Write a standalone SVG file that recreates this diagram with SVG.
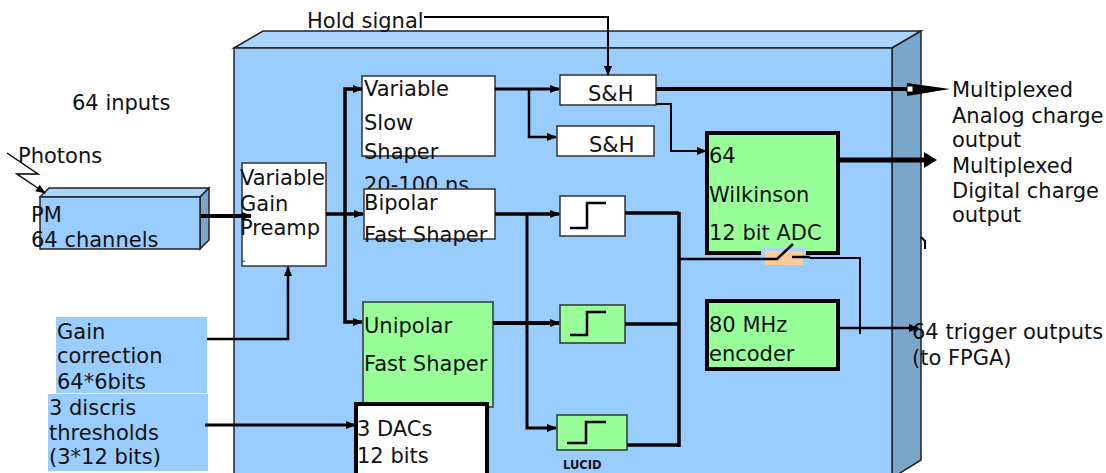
<svg xmlns="http://www.w3.org/2000/svg" width="1106" height="473" viewBox="0 0 1106 473">
<style>
text{font-family:"DejaVu Sans","Liberation Sans",sans-serif;font-size:21px;fill:#111}
.lucid{font-size:11.5px;font-weight:bold}
.wbox{fill:#fff;stroke:#333;stroke-width:1.5}
.gbox{fill:#99ff99;stroke:#333;stroke-width:1.5}
.gthick{fill:#99ff99;stroke:#000;stroke-width:4}
.wthick{fill:#fff;stroke:#000;stroke-width:4}
.front{fill:#99ccff;stroke:#222;stroke-width:1.5}
.top{fill:#aad4fc;stroke:#222;stroke-width:1.5}
.side{fill:#7aa6cc;stroke:#222;stroke-width:1.5}
.lab{fill:#99ccff}
.c{fill:none;stroke:#000;stroke-linejoin:miter}
.step{fill:none;stroke:#000;stroke-width:2.5}
</style>
<defs>
<marker id="arr" viewBox="0 0 10 10" refX="9" refY="5" markerWidth="11" markerHeight="10" markerUnits="userSpaceOnUse" orient="auto">
<path d="M0,1 L10,5 L0,9 z" fill="#000"/>
</marker>
</defs>

<g id="chip">
<polygon class="top" points="234,48 263,31 921,31 892,48"/>
<polygon class="side" points="892,48 921,31 921,460 892,478"/>
<rect class="front" x="234" y="48" width="658" height="430"/>
</g>

<g id="labels">
<text x="307" y="28">Hold signal</text>
<text x="72" y="110">64 inputs</text>
<text x="18" y="163">Photons</text>
</g>

<g id="pm">
<polygon class="top" points="40,197 49,188 209,188 200,197"/>
<polygon class="side" points="200,197 209,188 209,240 200,249"/>
<rect class="front" x="40" y="197" width="160" height="52"/>
<text x="31" y="222">PM</text>
<text x="31" y="247">64 channels</text>
</g>

<g id="preamp">
<rect class="wbox" x="242" y="163" width="84" height="103"/>
<text x="240" y="185">Variable</text>
<text x="240" y="211">Gain</text>
<text x="240" y="235">Preamp</text>
<text x="242" y="262" style="font-size:12px">.</text>
</g>

<g id="slow-shaper">
<rect class="wbox" x="362" y="76" width="133" height="80"/>
<text x="364" y="96">Variable</text>
<text x="364" y="130">Slow</text>
<text x="364" y="159">Shaper</text>
<text x="364" y="192">20-100 ns</text>
</g>

<g id="bipolar">
<rect class="wbox" x="364" y="189" width="131" height="50"/>
<text x="364" y="210">Bipolar</text>
<text x="364" y="242">Fast Shaper</text>
</g>

<g id="unipolar">
<rect class="gbox" x="363" y="302" width="130" height="105"/>
<text x="364" y="333">Unipolar</text>
<text x="364" y="371">Fast Shaper</text>
</g>

<g id="dacs">
<rect class="wthick" x="356" y="404" width="131" height="80"/>
<text x="357" y="436">3 DACs</text>
<text x="357" y="463">12 bits</text>
</g>

<g id="sh1">
<rect class="wbox" x="560" y="75" width="96" height="30"/>
<text x="588" y="101">S&amp;H</text>
</g>

<g id="sh2">
<rect class="wbox" x="557" y="126" width="97" height="30"/>
<text x="589" y="152">S&amp;H</text>
</g>

<g id="disc1">
<rect class="wbox" x="560" y="196" width="65" height="40"/>
<polyline class="step" points="570,228 587,228 587,203 606,203"/>
</g>

<g id="disc2">
<rect class="gbox" x="560" y="305" width="65" height="38"/>
<polyline class="step" points="570,335 587,335 587,312 606,312"/>
</g>

<g id="disc3">
<rect class="gbox" x="557" y="415" width="70" height="35"/>
<polyline class="step" points="567,443 586,443 586,422 606,422"/>
<text class="lucid" x="563" y="469">LUCID</text>
</g>

<g id="adc">
<rect class="gthick" x="707" y="133" width="131" height="120"/>
<text x="709" y="163">64</text>
<text x="709" y="202">Wilkinson</text>
<text x="709" y="240">12 bit ADC</text>
</g>

<g id="encoder">
<rect class="gthick" x="707" y="301" width="131" height="68"/>
<text x="709" y="332">80 MHz</text>
<text x="709" y="361">encoder</text>
</g>

<g id="switch">
<rect x="761" y="248" width="45" height="7" fill="#aad4fc"/>
<rect x="765" y="251" width="38" height="14" fill="#ffcc99"/>
</g>

<g id="gain">
<rect class="lab" x="56" y="317" width="151" height="76"/>
<text x="57" y="339">Gain</text>
<text x="57" y="363">correction</text>
<text x="57" y="389">64*6bits</text>
</g>

<g id="discris">
<rect class="lab" x="48" y="394" width="160" height="77"/>
<text x="49" y="415">3 discris</text>
<text x="49" y="440">thresholds</text>
<text x="49" y="464">(3*12 bits)</text>
</g>

<g id="outputs">
<text x="952" y="97">Multiplexed</text>
<text x="952" y="123">Analog charge</text>
<text x="952" y="147">output</text>
<text x="952" y="173">Multiplexed</text>
<text x="952" y="198">Digital charge</text>
<text x="952" y="222">output</text>
<text x="912" y="339">64 trigger outputs</text>
<text x="912" y="365">(to FPGA)</text>
</g>

<g id="connectors">
<path class="c" stroke-width="1.5" d="M7,153 L38,174 L17,174 L45,193" marker-end="url(#arr)"/>
<path class="c" stroke-width="2" d="M424,17 H608 V75" marker-end="url(#arr)"/>
<path class="c" stroke-width="4" d="M201,216 H251" marker-end="url(#arr)"/>
<path class="c" stroke-width="3.5" d="M326,214 H363" marker-end="url(#arr)"/>
<path class="c" stroke-width="3.5" d="M345,214 V89 H362" marker-end="url(#arr)"/>
<path class="c" stroke-width="3.5" d="M345,214 V322 H362" marker-end="url(#arr)"/>
<path class="c" stroke-width="3" d="M495,89 H559" marker-end="url(#arr)"/>
<path class="c" stroke-width="2.5" d="M529,89 V137 H556" marker-end="url(#arr)"/>
<path class="c" stroke-width="4" d="M656,89 H910"/>
<polygon points="907,83 950,89 907,96" fill="#000"/>
<rect x="907" y="86" width="6" height="6" fill="#fff" stroke="#000" stroke-width="1"/>
<path class="c" stroke-width="2" d="M656,104 H671 V151 H706" marker-end="url(#arr)"/>
<path class="c" stroke-width="5" d="M838,160 H925"/>
<polygon points="924,152 937,160 924,168" fill="#000"/>
<path class="c" stroke-width="3.5" d="M495,214 H559" marker-end="url(#arr)"/>
<path class="c" stroke-width="3" d="M527,214 V428 H556" marker-end="url(#arr)"/>
<path class="c" stroke-width="4" d="M493,323 H559" marker-end="url(#arr)"/>
<path class="c" stroke-width="3.5" d="M625,213 H679 M625,324 H679 M627,445 H679 M679,212 V447"/>
<path class="c" stroke-width="2.5" d="M679,259 H777 L793,244 M792,257 H810"/>
<path class="c" stroke-width="2" d="M810,258 H860 V334"/>
<path class="c" stroke-width="2.5" d="M838,328 H918" marker-end="url(#arr)"/>
<path class="c" stroke-width="2.5" d="M207,339 H288 V267" marker-end="url(#arr)"/>
<path class="c" stroke-width="3" d="M205,425 H355" marker-end="url(#arr)"/>
<path class="c" stroke-width="2" d="M921,237 L925,241 L925,249"/>
</g>
</svg>
